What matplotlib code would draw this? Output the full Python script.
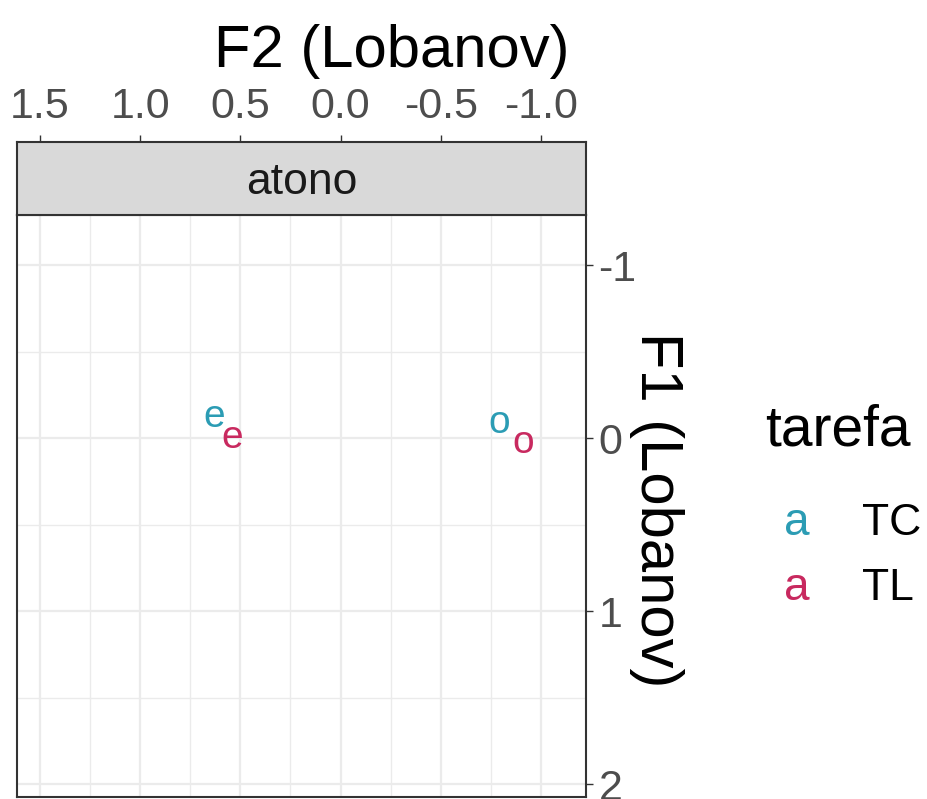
import matplotlib

matplotlib.use("Agg")
import matplotlib.pyplot as plt
from matplotlib.ticker import MultipleLocator

plt.rcParams["font.family"] = ["Liberation Sans", "DejaVu Sans"]

# vowel means (Lobanov-normalised), one row per vowel x task
vowels = ["e", "e", "o", "o"]
tarefa = ["TC", "TL", "TC", "TL"]
f2 = [0.63, 0.54, -0.79, -0.91]
f1 = [-0.12, 0.00, -0.09, 0.03]

levels = ["TC", "TL"]
colors = {"TC": "#2B9CB4", "TL": "#C8295F"}
facet = "atono"

x_major = [1.5, 1.0, 0.5, 0.0, -0.5, -1.0]
y_major = [-1, 0, 1, 2]

W, H = 928, 799
fig = plt.figure(figsize=(W / 100, H / 100), dpi=100)

# panel and strip, placed in pixels of the reference
ax = fig.add_axes([17 / W, 2 / H, 569 / W, 582 / H])
strip = fig.add_axes([17 / W, 584 / H, 569 / W, 73 / H], sharex=ax)

ax.set_xlim(1.615, -1.225)
ax.set_ylim(2.075, -1.29)

ax.xaxis.set_major_locator(MultipleLocator(0.5))
ax.xaxis.set_minor_locator(MultipleLocator(0.25))
ax.yaxis.set_major_locator(MultipleLocator(1))
ax.yaxis.set_minor_locator(MultipleLocator(0.5))
ax.grid(which="major", color="#EBEBEB", linewidth=1.6)
ax.grid(which="minor", color="#EBEBEB", linewidth=1.0)
ax.set_axisbelow(True)

for sp in ax.spines.values():
    sp.set_color("#333333")
    sp.set_linewidth(1.5)

ax.yaxis.tick_right()
ax.tick_params(axis="y", which="major", right=True, left=False, length=5,
               width=1.0, color="#333333", pad=4, labelsize=31,
               labelcolor="#4D4D4D")
ax.tick_params(axis="y", which="minor", right=False, left=False)
ax.tick_params(axis="x", which="both", bottom=False, top=False,
               labelbottom=False, labeltop=False)
ax.set_yticks(y_major)
ax.set_yticklabels([f"{v:d}" for v in y_major])

for v, t, x, y in zip(vowels, tarefa, f2, f1):
    ax.text(x, y, v, color=colors[t], fontsize=28, ha="center", va="center")

# strip with the top x axis
strip.set_facecolor("#D9D9D9")
for sp in strip.spines.values():
    sp.set_color("#333333")
    sp.set_linewidth(1.5)
strip.set_yticks([])
strip.xaxis.tick_top()
strip.set_xticks(x_major)
strip.set_xticklabels([f"{v:.1f}" for v in x_major])
strip.tick_params(axis="x", which="major", top=True, bottom=False, length=5,
                  width=1.0, color="#333333", pad=6, labelsize=31,
                  labelcolor="#4D4D4D")
strip.tick_params(axis="x", which="minor", top=False, bottom=False)
strip.text(0.5, 0.45, facet, transform=strip.transAxes, ha="center",
           va="center", fontsize=32, color="#1A1A1A")

# axis titles
fig.text(392 / W, 1 - 67 / H, "F2 (Lobanov)", ha="center", va="baseline",
         fontsize=43, color="black")
fig.text(657 / W, 1 - 510 / H, "F1 (Lobanov)", ha="center", va="center",
         rotation=270, fontsize=43, color="black")

# legend: letter keys like ggplot's geom_text legend
fig.text(765 / W, 1 - 445 / H, "tarefa", ha="left", va="baseline",
         fontsize=41, color="black")
for i, lev in enumerate(levels):
    yb = 1 - (535 + 65 * i) / H
    fig.text(797 / W, yb, "a", ha="center", va="baseline", fontsize=33,
             color=colors[lev])
    fig.text(862 / W, yb, lev, ha="left", va="baseline", fontsize=32,
             color="black")

fig.savefig("out.png", dpi=100)
